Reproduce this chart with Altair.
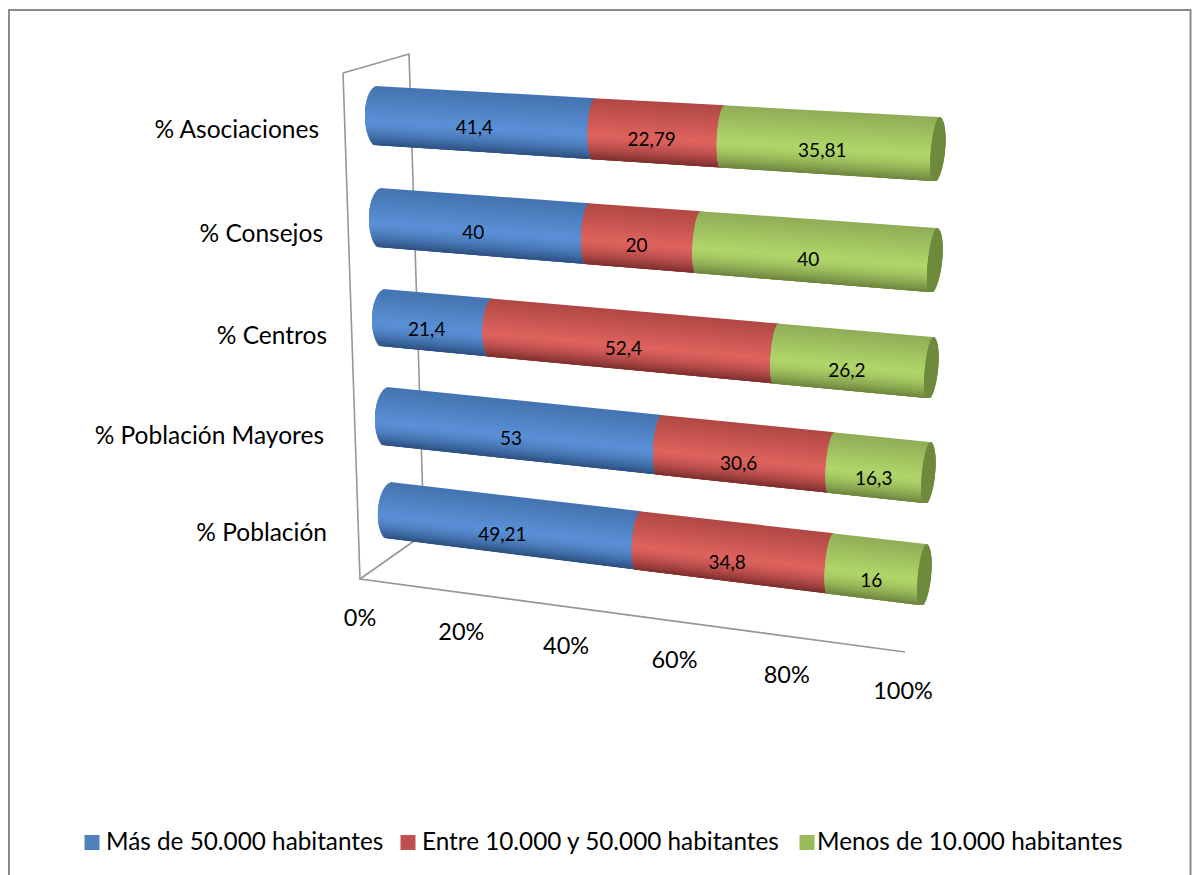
import math
import altair as alt
import pandas as pd

# Chart values
categories = ["% Asociaciones", "% Consejos", "% Centros", "% Población Mayores", "% Población"]
series = ["Más de 50.000 habitantes", "Entre 10.000 y 50.000 habitantes", "Menos de 10.000 habitantes"]
mas_50000 = [41.4, 40, 21.4, 53, 49.21]
entre_10000_50000 = [22.79, 20, 52.4, 30.6, 34.8]
menos_10000 = [35.81, 40, 26.2, 16.3, 16]
tick_percent = [0, 20, 40, 60, 80, 100]

# Perspective geometry of the 3D scene, in canvas pixels.
W, H = 1192, 875
PERSPECTIVE = 1.09
# left arc, right-end arc, right extreme, top/bottom at the near and far ends, tilt
ROWS = [
    dict(l0=365, l1=931, r=945, t0=86, b0=145, t1=117, b1=181, tilt0=0.5, tilt1=-3),
    dict(l0=369, l1=928, r=942, t0=188, b0=247, t1=228, b1=292, tilt0=0, tilt1=-3.5),
    dict(l0=372, l1=925, r=938, t0=289, b0=346, t1=337, b1=398, tilt0=-0.5, tilt1=-3),
    dict(l0=375, l1=922, r=935, t0=387, b0=445, t1=442, b1=503, tilt0=-1, tilt1=-3),
    dict(l0=378, l1=918, r=931, t0=482, b0=538, t1=544, b1=605, tilt0=-1.5, tilt1=-3),
]
LABEL_RIGHT = [319, 323, 327, 324, 327]
LABEL_Y = [130.5, 234.5, 336.5, 436.5, 533.5]
FLOOR = dict(x0=360, y0=579, x1=905, y1=652)
SHADES = [
    dict(top="#4474b0", mid="#5a90d6", bottom="#2c5080"),
    dict(top="#b04845", mid="#de625e", bottom="#7c2e2d"),
    dict(top="#8fad57", mid="#b0d66a", bottom="#6d833e"),
]
CAP = "#6e8a3c"
LEGEND_SWATCH = ["#4f81bd", "#c0504d", "#9bbb59"]
AXIS_GREY = "#969696"
STRIPS = 56
OVERLAP = 2.5


def depth(s):
    return s / (s + (1 - s) * PERSPECTIVE) if s > 0 else 0.0


def mix(a, b, u):
    ca = [int(a[i:i + 2], 16) for i in (1, 3, 5)]
    cb = [int(b[i:i + 2], 16) for i in (1, 3, 5)]
    return "#%02x%02x%02x" % tuple(round(x + (y - x) * u) for x, y in zip(ca, cb))


def shade(pal, t):
    if t < 0.15:
        return mix(pal["top"], pal["mid"], (t + 1) / 1.15)
    return mix(pal["mid"], pal["bottom"], ((t - 0.15) / 0.85) ** 1.6)


def project(row, s, t):
    f = depth(s)
    rx = 5.5 + 7.5 * (1 - s) ** 3
    tilt = row["tilt0"] + (row["tilt1"] - row["tilt0"]) * f
    x = row["l0"] + (row["l1"] - row["l0"]) * f + rx * (1 - math.sqrt(max(0, 1 - t * t))) + tilt * t
    top = row["t0"] + (row["t1"] - row["t0"]) * f
    bot = row["b0"] + (row["b1"] - row["b0"]) * f
    return x, top + (bot - top) * (t + 1) / 2, bot


strip_rows, label_rows = [], []
strip_id = 0
for i, row in enumerate(ROWS):
    values = [mas_50000[i], entre_10000_50000[i], menos_10000[i]]
    total = sum(values)
    start = 0.0
    for k, v in enumerate(values):
        s0, s1 = start / total, (start + v) / total
        for n in range(STRIPS):
            ta = -1 + 2 * n / STRIPS
            tb = -1 + 2 * (n + 1) / STRIPS
            tm = (ta + tb) / 2
            colour = shade(SHADES[k], tm)
            for s in (s0, s1):
                x, _, _ = project(row, s, tm)
                _, ya, _ = project(row, s, ta)
                _, yb, bottom = project(row, s, tb)
                # each strip runs slightly under the next so no white seams appear
                if s == s1 and k < 2:
                    x += 1.5
                strip_rows.append(dict(px=x, py=ya, py2=min(yb + OVERLAP, bottom), c=colour, id=strip_id))
            strip_id += 1
        # value label sits just below the cylinder's axis, halfway along the segment
        sm = (s0 + s1) / 2
        lx, ly, _ = project(row, sm, 0)
        f = depth(sm)
        label_rows.append(dict(
            px=row["l0"] + (row["l1"] - row["l0"]) * f,
            py=ly + 5.5 + i + 3 * sm,
            text=f"{v}".replace(".", ","),
        ))
        start += v
    # far end of the cylinder: a full ellipse
    right_rx = row["r"] - (row["l1"] + 5.5)
    for n in range(STRIPS):
        ta = -1 + 2 * n / STRIPS
        tb = -1 + 2 * (n + 1) / STRIPS
        tm = (ta + tb) / 2
        _, ya, _ = project(row, 1, ta)
        xl, _, _ = project(row, 1, tm)
        _, yb, bottom = project(row, 1, tb)
        xr = row["l1"] + 5.5 + right_rx * math.sqrt(max(0, 1 - tm * tm)) + row["tilt1"] * tm
        for x in (xl, xr):
            strip_rows.append(dict(px=x, py=ya, py2=min(yb + OVERLAP, bottom), c=CAP, id=strip_id))
        strip_id += 1

strips = pd.DataFrame(strip_rows)
labels = pd.DataFrame(label_rows)

x_scale = alt.Scale(domain=[0, W], range=[0, W], nice=False, zero=False)
y_scale = alt.Scale(domain=[0, H], range=[0, H], nice=False, zero=False)
X = alt.X("px:Q", scale=x_scale, axis=None)
Y = alt.Y("py:Q", scale=y_scale, axis=None)

# Outer frame (open at the bottom, running off the canvas)
frame = alt.Chart(pd.DataFrame([
    dict(px=9, py=H, o=0), dict(px=9, py=10, o=1),
    dict(px=1190.5, py=10, o=2), dict(px=1190.5, py=H, o=3),
])).mark_line(color="#8a8a8a", strokeWidth=2).encode(X, Y, order="o:Q")

# Back wall and floor of the 3D box
wall_paths = [
    [(343, 73), (360, 579), (905, 652)],
    [(343, 73), (409, 54), (424, 534)],
    [(360, 579), (424, 534)],
]
wall = alt.Chart(pd.DataFrame([
    dict(px=p[0], py=p[1], path=i, o=j) for i, path in enumerate(wall_paths) for j, p in enumerate(path)
])).mark_line(color=AXIS_GREY, strokeWidth=1.6).encode(X, Y, detail="path:N", order="o:Q")

cylinders = alt.Chart(strips).mark_area(orient="vertical").encode(
    X, Y, y2=alt.Y2("py2"), color=alt.Color("c:N", scale=None, legend=None), detail="id:N"
)

value_text = alt.Chart(labels).mark_text(
    font="Lato", fontSize=19, color="#000000", align="center", baseline="middle"
).encode(X, Y, text="text:N")

category_text = alt.Chart(pd.DataFrame(dict(px=LABEL_RIGHT, py=LABEL_Y, text=categories))).mark_text(
    font="Lato", fontSize=24.5, color="#000000", align="right", baseline="middle"
).encode(X, Y, text="text:N")

tick_df = pd.DataFrame([
    dict(
        px=FLOOR["x0"] + (FLOOR["x1"] - 2 - FLOOR["x0"]) * depth(p / 100),
        py=FLOOR["y0"] + (FLOOR["y1"] - FLOOR["y0"]) * depth(p / 100) + 40,
        text=f"{p}%",
    )
    for p in tick_percent
])
tick_text = alt.Chart(tick_df).mark_text(
    font="Lato", fontSize=23.5, color="#000000", align="center", baseline="middle"
).encode(X, Y, text="text:N")

# Legend row
legend_swatch_x = [92, 408, 807]
legend_text_x = [106, 422, 817]
legend_swatches = alt.Chart(pd.DataFrame(dict(
    px=legend_swatch_x, py=[842.5] * 3, name=series, c=LEGEND_SWATCH
))).mark_square(size=225, opacity=1).encode(X, Y, color=alt.Color("c:N", scale=None, legend=None))
legend_labels = alt.Chart(pd.DataFrame(dict(
    px=legend_text_x, py=[843] * 3, text=series
))).mark_text(font="Lato", fontSize=24.3, color="#000000", align="left", baseline="middle").encode(X, Y, text="text:N")

chart = alt.layer(
    frame, wall, cylinders, value_text, category_text, tick_text, legend_swatches, legend_labels
).properties(
    width=W, height=H, padding=0, autosize=alt.AutoSizeParams(type="none"), background="#ffffff"
).configure_view(stroke=None)

chart.save("out.html", embed_options={"renderer": "svg", "actions": False})
